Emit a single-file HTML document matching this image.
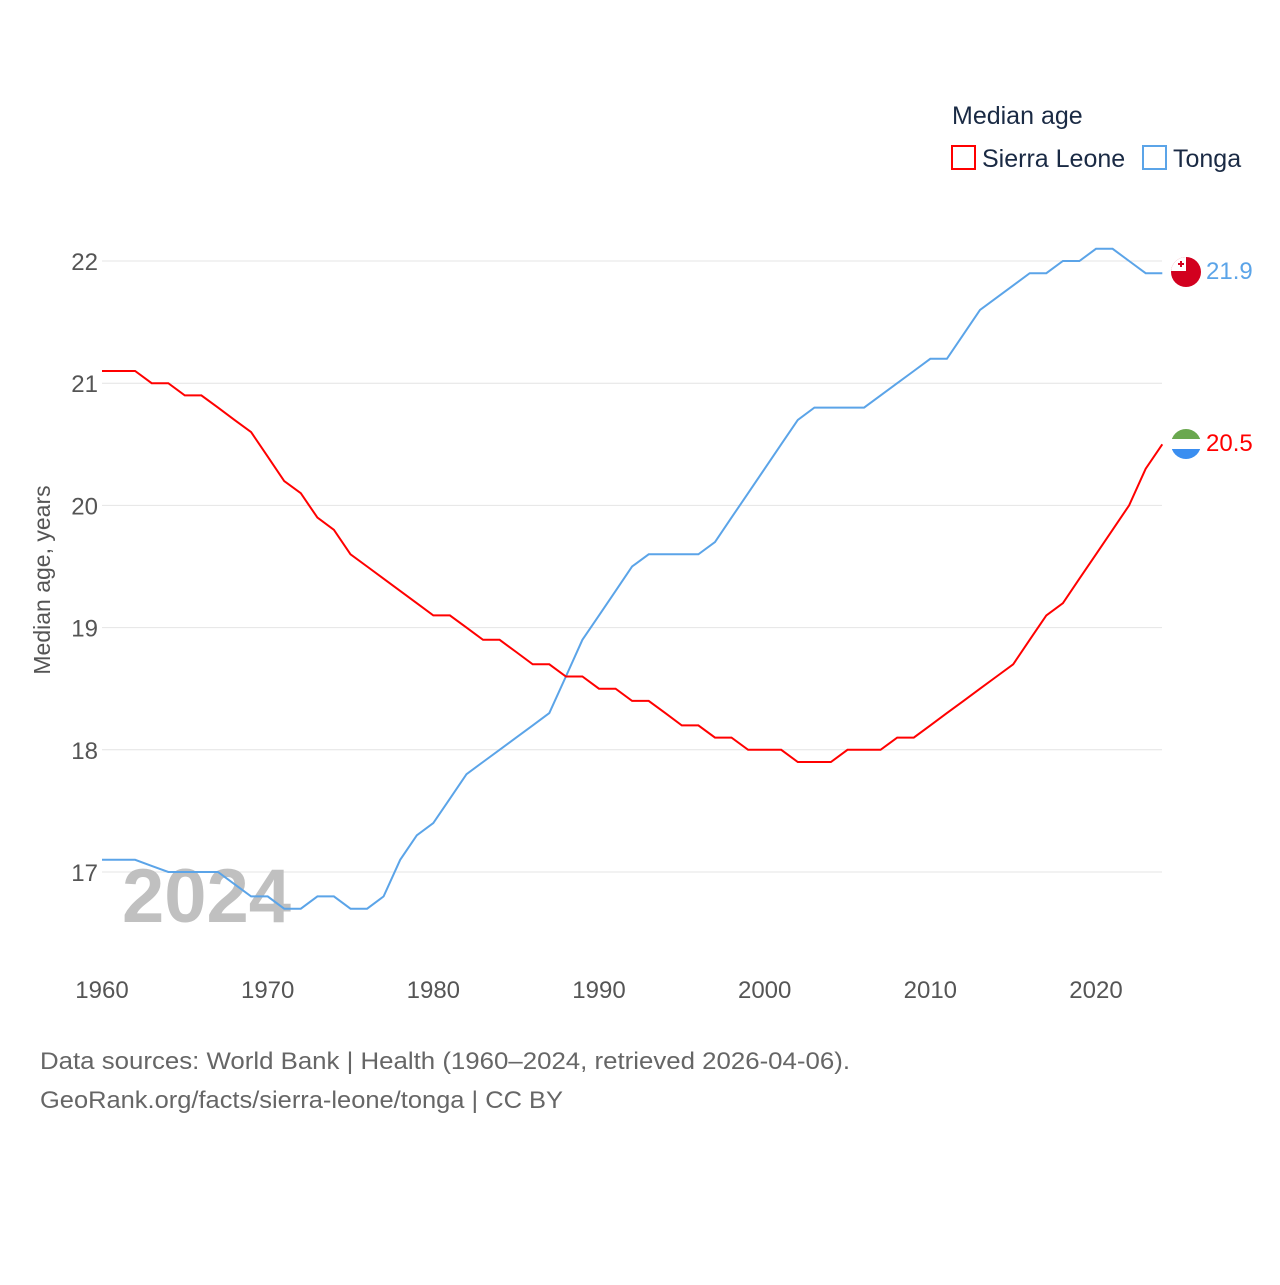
<!DOCTYPE html>
<html><head><meta charset="utf-8">
<style>
html,body{margin:0;padding:0;background:#fff;}
body{width:1280px;height:1280px;overflow:hidden;font-family:"Liberation Sans",sans-serif;}
svg text{font-family:"Liberation Sans",sans-serif;}
</style></head>
<body>
<svg id="chart" width="1280" height="1280" xmlns="http://www.w3.org/2000/svg">
<g id="grid"></g>
<g id="yticks"></g>
<g id="xticks"></g>
<text x="122" y="922" font-size="76" font-weight="bold" fill="#c0c0c0">2024</text>
<text transform="translate(50,580) rotate(-90)" text-anchor="middle" font-size="23" fill="#555">Median age, years</text>
<g id="series"></g>
<g>
<text x="952" y="124" font-size="25" fill="#1a2a44">Median age</text>
<g>
<rect x="952" y="146" width="23" height="23" fill="none" stroke="#ff0000" stroke-width="2"/>
<text x="982" y="167" font-size="25" fill="#1a2a44">Sierra Leone</text></g>
<g>
<rect x="1143" y="146" width="23" height="23" fill="none" stroke="#5ba4e8" stroke-width="2"/>
<text x="1173" y="167" font-size="25" fill="#1a2a44">Tonga</text></g>
</g>
<g>
<clipPath id="c1"><circle cx="1186" cy="272" r="15"/></clipPath>
<g clip-path="url(#c1)"><rect x="1170" y="256" width="32" height="32" fill="#d2001f"/><rect x="1170" y="256" width="16" height="15" fill="#fff"/><rect x="1178" y="263" width="6" height="2" fill="#d2001f"/><rect x="1180" y="261" width="2" height="6" fill="#d2001f"/></g></g>
<g>
<clipPath id="c2"><circle cx="1186" cy="444" r="15"/></clipPath>
<g clip-path="url(#c2)"><rect x="1170" y="428" width="32" height="11" fill="#6aa84f"/><rect x="1170" y="439" width="32" height="10" fill="#fff"/><rect x="1170" y="449" width="32" height="12" fill="#3a8ef0"/></g></g>
<text x="1206" y="279" font-size="24" fill="#5ba4e8">21.9</text>
<text x="1206" y="451" font-size="24" fill="#ff0000">20.5</text>
<text x="40" y="1069" font-size="24" fill="#666" textLength="810" lengthAdjust="spacingAndGlyphs">Data sources: World Bank | Health (1960–2024, retrieved 2026-04-06).</text>
<text x="40" y="1108" font-size="24" fill="#666" textLength="523" lengthAdjust="spacingAndGlyphs">GeoRank.org/facts/sierra-leone/tonga | CC BY</text>
</svg>
<script>
const years = Array.from({length:65},(_, i)=>1960+i);
const sierraLeone = [21.1,21.1,21.1,21.0,21.0,20.9,20.9,20.8,20.7,20.6,20.4,20.2,20.1,19.9,19.8,19.6,19.5,19.4,19.3,19.2,19.1,19.1,19.0,18.9,18.9,18.8,18.7,18.7,18.6,18.6,18.5,18.5,18.4,18.4,18.3,18.2,18.2,18.1,18.1,18.0,18.0,18.0,17.9,17.9,17.9,18.0,18.0,18.0,18.1,18.1,18.2,18.3,18.4,18.5,18.6,18.7,18.9,19.1,19.2,19.4,19.6,19.8,20.0,20.3,20.5];
const tonga = [17.1,17.1,17.1,17.05,17.0,17.0,17.0,17.0,16.9,16.8,16.8,16.7,16.7,16.8,16.8,16.7,16.7,16.8,17.1,17.3,17.4,17.6,17.8,17.9,18.0,18.1,18.2,18.3,18.6,18.9,19.1,19.3,19.5,19.6,19.6,19.6,19.6,19.7,19.9,20.1,20.3,20.5,20.7,20.8,20.8,20.8,20.8,20.9,21.0,21.1,21.2,21.2,21.4,21.6,21.7,21.8,21.9,21.9,22.0,22.0,22.1,22.1,22.0,21.9,21.9];
const yTicks = [17,18,19,20,21,22];
const xTicks = [1960,1970,1980,1990,2000,2010,2020];
const ns="http://www.w3.org/2000/svg";
const x = v => 102 + (v-1960)*(1096-102)/60;
const y = v => 872 - (v-17)*(872-261)/5;
const grid=document.getElementById('grid'), yt=document.getElementById('yticks'), xt=document.getElementById('xticks'), ser=document.getElementById('series');
yTicks.forEach(t=>{
  const l=document.createElementNS(ns,'line');
  l.setAttribute('x1',102);l.setAttribute('x2',1162);l.setAttribute('y1',y(t));l.setAttribute('y2',y(t));
  l.setAttribute('stroke','#e4e4e4');l.setAttribute('stroke-width','1');
  
  
  grid.appendChild(l);
  const tx=document.createElementNS(ns,'text');
  tx.setAttribute('x',98);tx.setAttribute('y',y(t)+9);tx.setAttribute('text-anchor','end');
  tx.setAttribute('font-size','24');tx.setAttribute('fill','#555');tx.textContent=t;
  
  
  yt.appendChild(tx);
});
xTicks.forEach(t=>{
  const tx=document.createElementNS(ns,'text');
  tx.setAttribute('x',x(t));tx.setAttribute('y',998);tx.setAttribute('text-anchor','middle');
  tx.setAttribute('font-size','24');tx.setAttribute('fill','#555');tx.textContent=t;
  
  
  xt.appendChild(tx);
});
function draw(vals,color,name){
  const p=document.createElementNS(ns,'polyline');
  p.setAttribute('points',vals.map((v,i)=>x(years[i]).toFixed(1)+','+y(v).toFixed(1)).join(' '));
  p.setAttribute('fill','none');p.setAttribute('stroke',color);p.setAttribute('stroke-width','2');
  
  
  ser.appendChild(p);
}
draw(tonga,'#5ba4e8','tonga-line');
draw(sierraLeone,'#ff0000','sierra-leone-line');
</script>
</body></html>
